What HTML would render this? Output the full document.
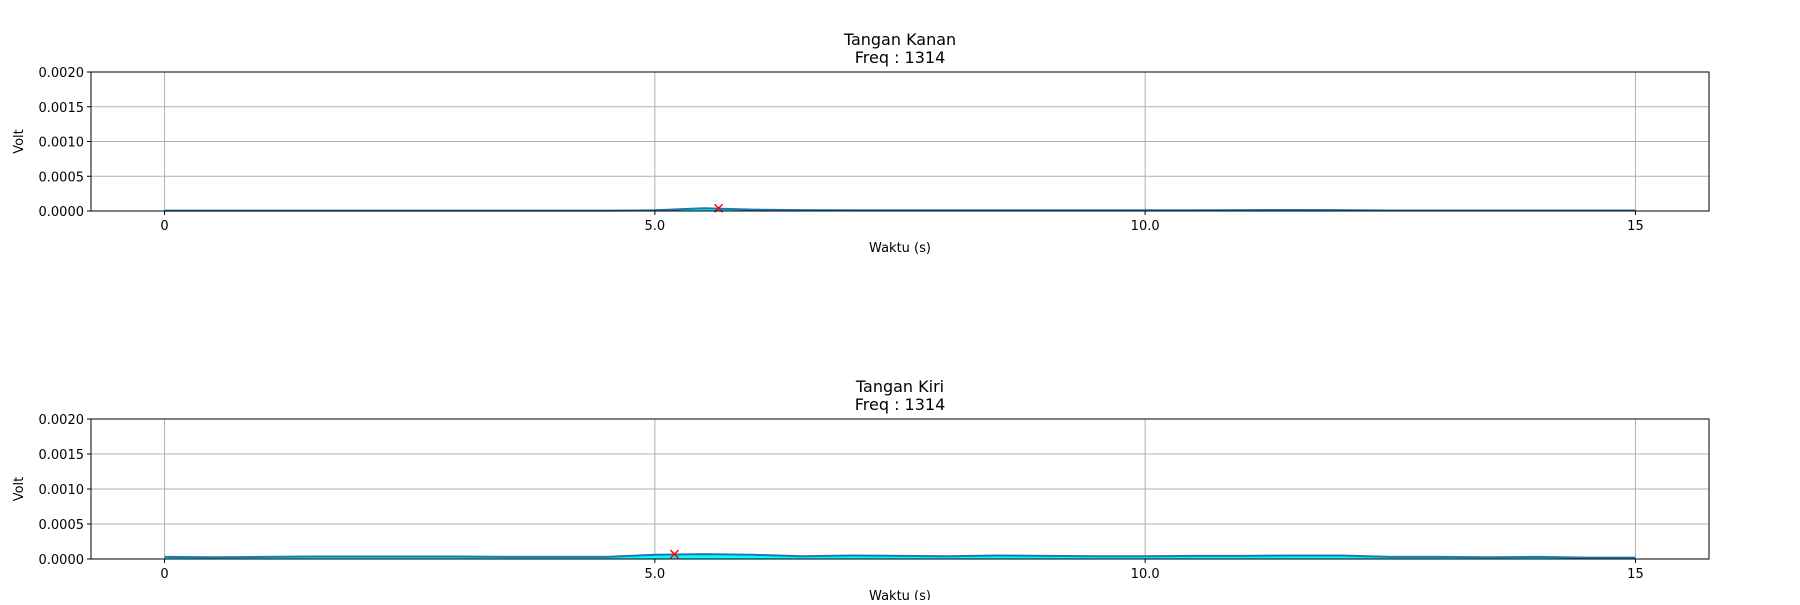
<!DOCTYPE html>
<html><head><meta charset="utf-8"><style>
body{margin:0;background:#fff;width:1800px;height:600px;overflow:hidden;font-family:"Liberation Sans","DejaVu Sans",sans-serif}
svg text{font-family:"DejaVu Sans","Liberation Sans",sans-serif}
</style></head><body>
<svg id="chart" width="1800" height="600" xmlns="http://www.w3.org/2000/svg"></svg>
<script>
const xValues=[0,0.5,1,1.5,2,2.5,3,3.5,4,4.5,5,5.5,6,6.5,7,7.5,8,8.5,9,9.5,10,10.5,11,11.5,12,12.5,13,13.5,14,14.5,15];
const rightValues=[0.000005,0.000005,0.000005,0.000005,0.000005,0.000005,0.000005,0.000005,0.000005,0.000005,0.00001,0.00004,0.00002,0.000012,0.00001,0.00001,0.00001,0.00001,0.00001,0.00001,0.00001,0.00001,0.000012,0.000015,0.000012,0.000008,0.000008,0.000008,0.000008,0.000008,0.000008];
const leftValues=[0.00003,0.000025,0.00003,0.000035,0.000035,0.000035,0.000035,0.00003,0.00003,0.00003,0.00006,0.00007,0.00006,0.00004,0.00005,0.000045,0.00004,0.00005,0.000045,0.00004,0.00004,0.000045,0.000045,0.00005,0.00005,0.00003,0.00003,0.000025,0.00003,0.00002,0.00002];
const rightPeak=[5.65,0.00004];
const leftPeak=[5.2,0.00007];
const yTicks=[0,0.0005,0.001,0.0015,0.002];
const yTickLabels=["0.0000","0.0005","0.0010","0.0015","0.0020"];
const xTicks=[0,5,10,15];
const xTickLabels=["0","5.0","10.0","15"];
const titles=[["Tangan Kanan","Freq : 1314"],["Tangan Kiri","Freq :  1314"]];
const NS="http://www.w3.org/2000/svg";
const svg=document.getElementById('chart');
function mk(tag,attrs,parent){const e=document.createElementNS(NS,tag);for(const k in attrs)e.setAttribute(k,attrs[k]);(parent||svg).appendChild(e);return e;}
function panel(top,bottom,vals,peak,title,name){
  const L=91,R=1709,xmin=-0.75,xmax=15.75,ymin=0,ymax=0.002;
  const sx=v=>L+(v-xmin)/(xmax-xmin)*(R-L);
  const sy=v=>bottom-(v-ymin)/(ymax-ymin)*(bottom-top);
  const g=mk('g',{});
  
  
  xTicks.forEach((t,i)=>{
    const l=mk('line',{x1:sx(t),x2:sx(t),y1:top,y2:bottom,stroke:'#b0b0b0','stroke-width':1},g);
    
    mk('line',{x1:sx(t),x2:sx(t),y1:bottom,y2:bottom+4,stroke:'#000'},g);
    const tx=mk('text',{x:sx(t),y:bottom+19,'font-size':13,'text-anchor':'middle'},g);tx.textContent=xTickLabels[i];
    
  });
  yTicks.forEach((t,i)=>{
    const l=mk('line',{x1:L,x2:R,y1:sy(t),y2:sy(t),stroke:'#b0b0b0','stroke-width':1},g);
    
    mk('line',{x1:L-4,x2:L,y1:sy(t),y2:sy(t),stroke:'#000'},g);
    const tx=mk('text',{x:L-7,y:sy(t)+5,'font-size':13,'text-anchor':'end'},g);tx.textContent=yTickLabels[i];
    
  });
  let d='';xValues.forEach((x,i)=>{d+=(i?'L':'M')+sx(x)+','+sy(vals[i]);});
  const fill=mk('path',{d:d+'L'+sx(xValues[xValues.length-1])+','+sy(0)+'L'+sx(xValues[0])+','+sy(0)+'Z',fill:'#00ffff'},g);
  
  const ln=mk('path',{d:d,fill:'none',stroke:'#1f77b4','stroke-width':2,'stroke-linejoin':'round'},g);
  
  const px=sx(peak[0]),py=sy(peak[1]);
  const m=mk('path',{d:`M${px-4},${py-4}L${px+4},${py+4}M${px-4},${py+4}L${px+4},${py-4}`,stroke:'red','stroke-width':1.5},g);
  
  const fr=mk('rect',{x:L,y:top,width:R-L,height:bottom-top,fill:'none',stroke:'#000','stroke-width':1},g);
  
  const t1=mk('text',{x:900,y:top-27,'font-size':16,'text-anchor':'middle'},g);t1.textContent=title[0];
  
  const t2=mk('text',{x:900,y:top-9,'font-size':16,'text-anchor':'middle'},g);t2.textContent=title[1];
  
  const xl=mk('text',{x:900,y:bottom+41,'font-size':13,'text-anchor':'middle'},g);xl.textContent='Waktu (s)';
  
  const yc=(top+bottom)/2;
  const yl=mk('text',{x:23,y:yc,'font-size':13,'text-anchor':'middle',transform:`rotate(-90 23 ${yc})`},g);yl.textContent='Volt';
  
}
panel(72,211,rightValues,rightPeak,titles[0],'right-hand-panel');
panel(419,559,leftValues,leftPeak,titles[1],'left-hand-panel');
</script>
</body></html>
